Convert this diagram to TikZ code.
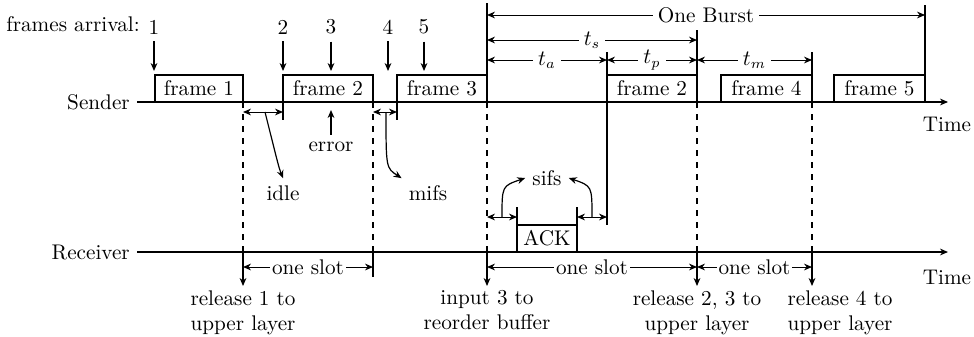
\documentclass[tikz,border=0pt]{standalone}
\usetikzlibrary{arrows.meta,calc}
\tikzset{>={Stealth[length=4pt,width=3.4pt]},axis/.style={line width=.6pt,->},
 dim/.style={line width=.5pt,<->},gap/.style={fill=white,inner xsep=2.5pt,inner ysep=.5pt},
 framebox/.style={line width=.6pt}}
\begin{document}
\begin{tikzpicture}[x=.5pt,y=-.5pt,line width=.6pt,every node/.style={font=\fontsize{10.6}{12.6}\selectfont}]
\useasboundingbox (0,0) rectangle (974,337);
% time axes
\node[left] (snd) at (137,102) {Sender};
\node[left] (rcv) at (137,252) {Receiver};
\draw[axis] (snd) -- (948,102);
\draw[axis] (rcv) -- (948,252);
\node (tm1) at (947,124) {Time};
\node (tm2) at (947,277) {Time};
\foreach \a/\b/\t in {155/243/frame 1,283/373/frame 2,397/487/frame 3,607/697/frame 2,721/812/frame 4,834/925/frame 5}
 \draw[framebox] (\a,102) rectangle (\b,75) node[midway] (fr\a) {\t};
\node (fa) at (73,24) {frames arrival:};
\foreach \x/\n in {154/1,283/2,331/3,388/4,424/5}
 {\node (n\n) at (\x,27) {\n}; \draw[->] (n\n) -- (\x,71);}
% boundaries
\draw (487,3)--(487,102); \draw (697,30)--(697,102); \draw (812,52)--(812,102);
\draw (925,5)--(925,102); \draw (607,52)--(607,225);
\draw (283,102)--(283,120); \draw (397,102)--(397,120); \draw (373,252)--(373,277);
\foreach \x in {243,373,487,697,812}\draw[dashed] (\x,102)--(\x,252);
\foreach \x/\d/\t in {243/0/{release 1 to\\upper layer},487/0/{input 3 to\\reorder buffer},697/0/{release 2, 3 to\\upper layer},812/28/{release 4 to\\upper layer}}
 \draw[->] (\x,252)--(\x,286) node[below,xshift=\d*.5pt,align=center,inner sep=2pt] (r\x) {\t};
% ACK
\draw[framebox] (517,252) rectangle (577,225) node[midway] (ack) {ACK};
\draw (517,207)--(517,225); \draw (577,207)--(577,225);
% dimensions
\foreach \a/\b/\y/\t in {487/925/15/One Burst,487/697/40/$t_s$,487/607/60/$t_a$,607/697/60/$t_p$,697/812/60/$t_m$}
 \draw[dim] (\a,\y)--(\b,\y) node[midway,gap] {\t};
\foreach \a/\b in {243/373,487/697,697/812}
 \draw[dim] (\a,267)--(\b,267) node[midway,gap,inner xsep=1pt] {one slot};
\draw[dim] (243,112)--(283,112); \draw[dim] (373,112)--(397,112);
\draw[dim] (487,217)--(517,217); \draw[dim] (577,217)--(607,217);
% remarks
\node (idle) at (283,193) {idle};
\node (mifs) at (428,193) {mifs};
\node (err) at (331,147) {error};
\node (sifs) at (547,178) {sifs};
\draw[->] (265,112) .. controls (279,168) .. (idle.north);
\draw[->] (386,112) .. controls (386,168) .. (mifs.north west);
\draw[->] (err) -- (331,110);
\draw[->] (502,217) .. controls (502,186) .. (sifs.west);
\draw[->] (592,217) .. controls (592,186) .. (sifs.east);
\end{tikzpicture}
\end{document}
